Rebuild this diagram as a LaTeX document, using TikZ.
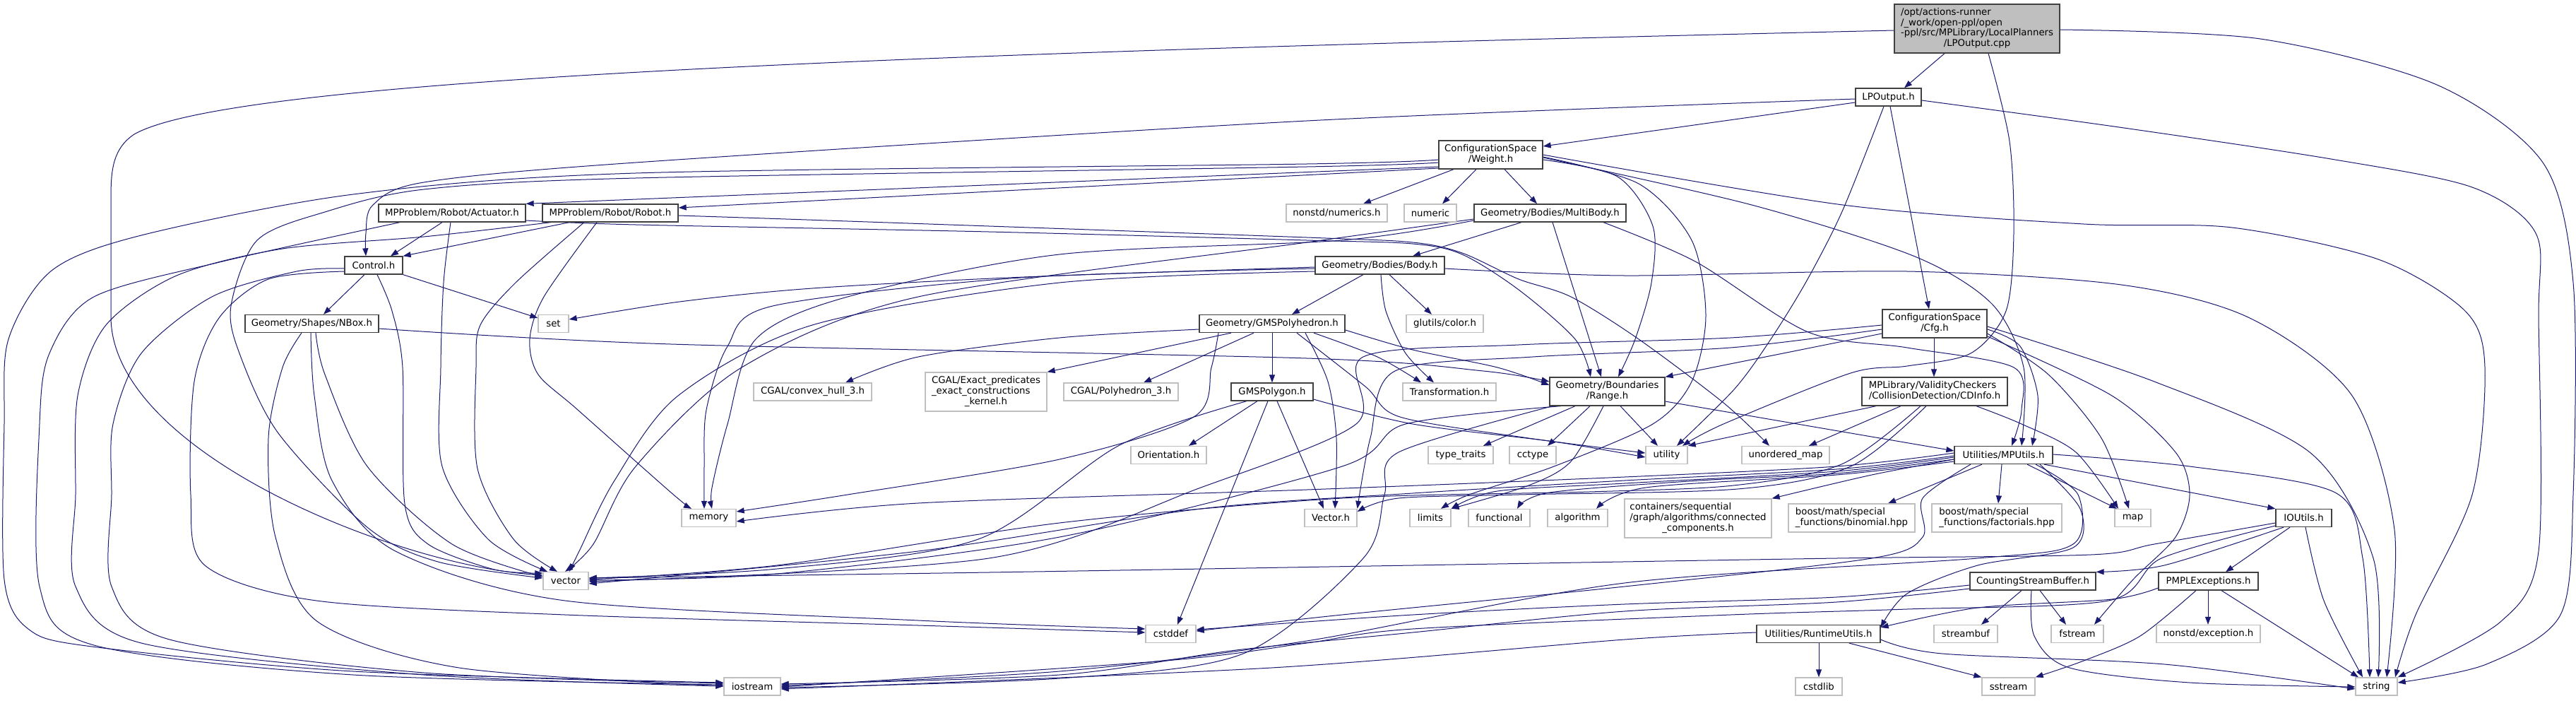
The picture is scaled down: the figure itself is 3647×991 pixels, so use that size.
\documentclass[tikz,border=0pt]{standalone}
\usepackage{fontspec}
\setmainfont{DejaVu Sans}
\usetikzlibrary{arrows.meta}
\pgfdeclarelayer{bg}
\pgfsetlayers{bg,main}
\definecolor{cedge}{HTML}{191970}
\definecolor{cdark}{HTML}{404040}
\definecolor{clite}{HTML}{BFBFBF}
\newcommand{\nf}{\fontsize{13.3}{14.7}\selectfont}
\tikzset{
  nd/.style={draw=cdark, line width=1.3pt, fill=white, inner sep=0pt, font=\nf, minimum height=25pt},
  nx/.style={nd, draw=clite},
  edg/.style={draw=cedge, line width=1pt, -{Triangle[length=11pt,width=8pt]}},
}
\begin{document}
\begin{tikzpicture}[x=1pt,y=-1pt]
\useasboundingbox (0,0) rectangle (3647,991);
% nodes
\node[nd, fill=clite, minimum width=234pt, minimum height=69pt] (R) at (2799,40.5) {\begin{tabular}{@{}l@{}}/opt/actions-runner\\/\_work/open-ppl/open\\-ppl/src/MPLibrary/LocalPlanners\\\multicolumn{1}{@{}c@{}}{/LPOutput.cpp}\end{tabular}};
\node[nd, minimum width=93pt] (LP) at (2673.5,137.5) {LPOutput.h};
\node[nd, minimum width=147pt, minimum height=40pt] (W) at (2110.5,219) {\begin{tabular}{@{}c@{}}ConfigurationSpace\\/Weight.h\end{tabular}};
\node[nd, minimum width=208pt] (A) at (640,301.5) {MPProblem/Robot/Actuator.h};
\node[nd, minimum width=192pt] (Rb) at (864,301.5) {MPProblem/Robot/Robot.h};
\node[nx, minimum width=143pt] (Nm) at (1892.5,301.5) {nonstd/numerics.h};
\node[nx, minimum width=74pt] (Nc) at (2025,301.5) {numeric};
\node[nd, minimum width=215pt] (MB) at (2194.5,301.5) {Geometry/Bodies/MultiBody.h};
\node[nd, minimum width=82pt] (C) at (529,375.5) {Control.h};
\node[nd, minimum width=183pt] (B) at (1953.5,375.5) {Geometry/Bodies/Body.h};
\node[nd, minimum width=189pt] (NB) at (441.5,458) {Geometry/Shapes/NBox.h};
\node[nx, minimum width=43pt] (set) at (783.5,458) {set};
\node[nd, minimum width=206pt] (GP) at (1801,458) {Geometry/GMSPolyhedron.h};
\node[nx, minimum width=109pt] (gl) at (2045.5,458) {glutils/color.h};
\node[nd, minimum width=148pt, minimum height=40pt] (Cfg) at (2739,458) {\begin{tabular}{@{}c@{}}ConfigurationSpace\\/Cfg.h\end{tabular}};
\node[nx, minimum width=167pt] (cvx) at (1150.5,554.5) {CGAL/convex\_hull\_3.h};
\node[nx, minimum width=172pt, minimum height=55pt] (exk) at (1396,554.5) {\begin{tabular}{@{}l@{}}CGAL/Exact\_predicates\\\_exact\_constructions\\\multicolumn{1}{@{}c@{}}{\_kernel.h}\end{tabular}};
\node[nx, minimum width=162pt] (p3) at (1587,554.5) {CGAL/Polyhedron\_3.h};
\node[nd, minimum width=116pt] (Pg) at (1801,554.5) {GMSPolygon.h};
\node[nx, minimum width=132pt] (Tr) at (2052,554.5) {Transformation.h};
\node[nd, minimum width=163pt, minimum height=40pt] (Rg) at (2275.5,554) {\begin{tabular}{@{}c@{}}Geometry/Boundaries\\/Range.h\end{tabular}};
\node[nd, minimum width=206pt, minimum height=40pt] (CD) at (2739,554) {\begin{tabular}{@{}l@{}}MPLibrary/ValidityCheckers\\/CollisionDetection/CDInfo.h\end{tabular}};
\node[nx, minimum width=107pt] (Or) at (1654.5,644) {Orientation.h};
\node[nx, minimum width=92pt] (tt) at (2068,644) {type\_traits};
\node[nx, minimum width=66pt] (cc) at (2170,644) {cctype};
\node[nx, minimum width=59pt] (ut) at (2359.5,644) {utility};
\node[nx, minimum width=124pt] (um) at (2528,644) {unordered\_map};
\node[nd, minimum width=139pt] (MU) at (2836.5,644) {Utilities/MPUtils.h};
\node[nx, minimum width=77pt] (mem) at (1003.5,733) {memory};
\node[nx, minimum width=74pt] (Vh) at (1884,733) {Vector.h};
\node[nx, minimum width=58pt] (lim) at (2025,733) {limits};
\node[nx, minimum width=87pt] (fn) at (2122.5,733) {functional};
\node[nx, minimum width=85pt] (alg) at (2233.5,733) {algorithm};
\node[nx, minimum width=208pt, minimum height=55pt] (cont) at (2404,733.5) {\begin{tabular}{@{}l@{}}containers/sequential\\/graph/algorithms/connected\\\multicolumn{1}{@{}c@{}}{\_components.h}\end{tabular}};
\node[nx, minimum width=179pt, minimum height=40pt] (bin) at (2621.5,733) {\begin{tabular}{@{}l@{}}boost/math/special\\\_functions/binomial.hpp\end{tabular}};
\node[nx, minimum width=184pt, minimum height=40pt] (fac) at (2827,733) {\begin{tabular}{@{}l@{}}boost/math/special\\\_functions/factorials.hpp\end{tabular}};
\node[nx, minimum width=51pt] (map) at (3019.5,733) {map};
\node[nd, minimum width=79pt] (IO) at (3261.5,733) {IOUtils.h};
\node[nx, minimum width=64pt] (vec) at (801,822) {vector};
\node[nd, minimum width=178pt] (CSB) at (2878,822.5) {CountingStreamBuffer.h};
\node[nd, minimum width=141pt] (PE) at (3126.5,822.5) {PMPLExceptions.h};
\node[nx, minimum width=71pt] (cdf) at (1657.5,897) {cstddef};
\node[nd, minimum width=175pt] (RU) at (2574.5,897) {Utilities/RuntimeUtils.h};
\node[nx, minimum width=90pt] (sbuf) at (2783,897) {streambuf};
\node[nx, minimum width=74pt] (fst) at (2941,897) {fstream};
\node[nx, minimum width=147pt] (nex) at (3126.5,897) {nonstd/exception.h};
\node[nx, minimum width=80pt] (ios) at (1065,971.5) {iostream};
\node[nx, minimum width=66pt] (cstdlib) at (2575,971.5) {cstdlib};
\node[nx, minimum width=75pt] (sst) at (2843.5,971.5) {sstream};
\node[nx, minimum width=59pt] (str) at (3364.5,971.5) {string};

\begin{pgfonlayer}{bg}
% root
\draw[edg] (R.south -| 2753,0) -- (LP.north -| 2696,0);
\draw[edg] (R.west |- 0,43) .. controls (1300,75) and (330,110) .. (190,190) .. controls (160,210) and (157,240) .. (157,280) -- (157,450) .. controls (160,640) and (560,800) .. (vec.west |- 0,814);
\draw[edg] plot[smooth] coordinates {(R.south -| 2815,0) (2845,200) (2851,330) (2840,440) (2790,500) (2700,518) (2620,528) (2440,600) (ut.north -| 2382,0)};
\draw[edg] plot[smooth] coordinates {(R.east |- 0,42) (3200,55) (3450,120) (3600,230) (3643,400) (3643,700) (3625,870) (3520,940) (str.east |- 0,966)};
% LPOutput.h
\draw[edg] (LP.west |- 0,145) -- (W.east |- 0,207);
\draw[edg] (LP.south -| 2676,0) -- (Cfg.north -| 2731,0);
\draw[edg] plot[smooth] coordinates {(LP.west |- 0,140) (1850,171) (900,230) (600,258) (528,290) (518,330) (C.north -| 518,0)};
\draw[edg] plot[smooth] coordinates {(LP.south -| 2667,0) (2609,297) (2558,397) (2507,480) (2456,550) (ut.north -| 2374,0)};
\draw[edg] plot[smooth] coordinates {(LP.east |- 0,142) (3000,180) (3300,225) (3500,265) (3590,330) (3594,450) (3594,780) (3540,880) (str.north east)};
% Weight.h
\draw[edg] (W.west |- 0,236) -- (A.north east);
\draw[edg] (W.west |- 0,238) -- (Rb.east |- 0,294);
\draw[edg] (W.south -| 2058,0) -- (Nm.north -| 1930,0);
\draw[edg] (W.south -| 2090,0) -- (Nc.north -| 2042,0);
\draw[edg] (W.south -| 2130,0) -- (MB.north -| 2176,0);
\draw[edg] plot[smooth] coordinates {(W.west |- 0,226) (1850,232) (900,245) (500,275) (200,333) (73,383) (12,480) (6,600) (6,820) (40,890) (130,915) (500,950) (ios.west |- 0,966)};
\draw[edg] plot[smooth] coordinates {(W.west |- 0,230) (1850,236) (900,252) (600,268) (460,300) (364,340) (327,433) (339,500) (394,613) (521,747) (620,795) (vec.west |- 0,818)};
\draw[edg] plot[smooth] coordinates {(W.east |- 0,226) (2290,250) (2340,320) (2338,400) (2315,480) (Rg.north -| 2291,0)};
\draw[edg] plot[smooth] coordinates {(W.east |- 0,222) (2320,260) (2395,340) (2415,447) (2395,540) (2340,600) (2200,660) (2080,700) (lim.north -| 2040,0)};
\draw[edg] plot[smooth] coordinates {(W.east |- 0,223) (2480,290) (2711,363) (2820,430) (2865,520) (MU.north -| 2862,0)};
\draw[edg] plot[smooth] coordinates {(W.east |- 0,219) (2609,290) (2950,317) (3160,322) (3367,367) (3490,440) (3518,520) (3500,700) (3420,870) (str.north -| 3391,0)};
% Actuator.h
\draw[edg] (A.south -| 626,0) -- (C.north -| 553,0);
\draw[edg] plot[smooth] coordinates {(A.south -| 638,0) (628,400) (624,520) (626,660) (691,763) (vec.north -| 775,0)};
\draw[edg] plot[smooth] coordinates {(A.south -| 566,0) (315,370) (133,420) (70,500) (56,600) (56,830) (133,913) (500,955) (ios.west |- 0,969)};
\draw[edg] plot[smooth] coordinates {(A.east |- 0,312) (900,318) (1400,328) (1850,340) (2000,345) (2070,360) (2150,410) (2230,480) (Rg.north -| 2252,0)};
% Robot.h
\draw[edg] (Rb.south -| 806,0) -- (C.north east);
\draw[edg] plot[smooth] coordinates {(Rb.south -| 827,0) (730,400) (680,460) (674,520) (676,663) (727,763) (vec.north -| 789,0)};
\draw[edg] plot[smooth] coordinates {(Rb.south -| 845,0) (770,420) (750,480) (762,530) (818,580) (950,697) (mem.north -| 979,0)};
\draw[edg] plot[smooth] coordinates {(Rb.south -| 780,0) (600,335) (400,352) (250,390) (150,460) (110,560) (107,700) (107,830) (200,910) (600,955) (ios.west |- 0,971)};
\draw[edg] plot[smooth] coordinates {(Rb.east |- 0,305) (1200,313) (1850,336) (2000,343) (2070,358) (2150,395) (2224,420) (2320,480) (2440,570) (um.north -| 2505,0)};
% Control.h
\draw[edg] (C.south -| 516,0) -- (NB.north -| 458,0);
\draw[edg] (C.south east) -- (set.west |- 0,450);
\draw[edg] plot[smooth] coordinates {(C.south -| 534,0) (555,440) (570,520) (573,713) (606,770) (700,806) (vec.west |- 0,811)};
\draw[edg] plot[smooth] coordinates {(C.west |- 0,380) (420,384) (300,420) (200,500) (160,600) (158,700) (158,830) (240,905) (600,952) (ios.west |- 0,967)};
\draw[edg] plot[smooth] coordinates {(C.west |- 0,384) (380,395) (310,450) (275,540) (270,700) (290,800) (448,850) (800,870) (1300,885) (cdf.west |- 0,895)};
% NBox.h
\draw[edg] plot[smooth] coordinates {(NB.east |- 0,465) (950,487) (1850,507) (2100,525) (Rg.west |- 0,540)};
\draw[edg] plot[smooth] coordinates {(NB.south -| 427,0) (400,520) (380,620) (390,760) (450,880) (650,945) (ios.west |- 0,971)};
\draw[edg] plot[smooth] coordinates {(NB.south -| 440,0) (445,560) (470,680) (560,780) (800,850) (1300,878) (cdf.west |- 0,890)};
\draw[edg] plot[smooth] coordinates {(NB.south -| 447,0) (460,530) (520,660) (640,770) (vec.west |- 0,816)};
% Body.h
\draw[edg] (B.south -| 1930,0) -- (GP.north -| 1829,0);
\draw[edg] (B.south -| 1967,0) -- (gl.north -| 2027,0);
\draw[edg] plot[smooth] coordinates {(B.south -| 1955,0) (1962,440) (1990,500) (Tr.north -| 2030,0)};
\draw[edg] plot[smooth] coordinates {(B.west |- 0,378) (1450,392) (1150,408) (962,427) (set.east |- 0,452)};
\draw[edg] plot[smooth] coordinates {(B.west |- 0,380) (1445,393) (1094,433) (1030,490) (1000,580) (997,660) (mem.north -| 997,0)};
\draw[edg] plot[smooth] coordinates {(B.west |- 0,384) (1500,400) (1150,460) (960,560) (870,680) (820,780) (vec.north -| 806,0)};
\draw[edg] plot[smooth] coordinates {(B.east |- 0,380) (2300,390) (2700,384) (3003,403) (3185,450) (3330,560) (3390,750) (str.north -| 3379,0)};
% MultiBody.h
\draw[edg] (MB.south -| 2154,0) -- (B.north -| 2000,0);
\draw[edg] (MB.south -| 2198,0) -- (Rg.north -| 2267,0);
\draw[edg] plot[smooth] coordinates {(MB.west |- 0,312) (1900,340) (1500,360) (1200,420) (1070,480) (1030,600) (1008,690) (mem.north -| 1008,0)};
\draw[edg] plot[smooth] coordinates {(MB.west |- 0,310) (1850,343) (1300,420) (1050,520) (900,660) (840,770) (vec.north -| 800,0)};
\draw[edg] plot[smooth] coordinates {(MB.south -| 2270,0) (2400,370) (2560,470) (2700,492) (2851,520) (2862,580) (MU.north -| 2848,0)};
% GMSPolyhedron.h
\draw[edg] plot[smooth] coordinates {(GP.west |- 0,466) (1500,478) (1300,505) (cvx.north -| 1197,0)};
\draw[edg] (GP.south -| 1743,0) -- (exk.north east);
\draw[edg] (GP.south -| 1775,0) -- (p3.north -| 1619,0);
\draw[edg] (GP.south -| 1801,0) -- (Pg.north -| 1801,0);
\draw[edg] plot[smooth] coordinates {(GP.south -| 1860,0) (1950,505) (Tr.north -| 2012,0)};
\draw[edg] plot[smooth] coordinates {(GP.east |- 0,467) (2000,495) (2120,520) (Rg.west |- 0,545)};
\draw[edg] plot[smooth] coordinates {(GP.south -| 1836,0) (1933,547) (1982,590) (2164,620) (ut.west |- 0,641)};
\draw[edg] plot[smooth] coordinates {(GP.south -| 1848,0) (1880,540) (1892,620) (Vh.north -| 1890,0)};
\draw[edg] plot[smooth] coordinates {(GP.south -| 1725,0) (1715,520) (1690,590) (1500,650) (1200,700) (mem.east |- 0,724)};
% GMSPolygon.h
\draw[edg] (Pg.south -| 1780,0) -- (Or.north -| 1683,0);
\draw[edg] (Pg.south -| 1808,0) -- (Vh.north -| 1874,0);
\draw[edg] (Pg.south -| 1795,0) -- (cdf.north -| 1667,0);
\draw[edg] plot[smooth] coordinates {(Pg.east |- 0,565) (2000,600) (2200,625) (ut.west |- 0,647)};
\draw[edg] plot[smooth] coordinates {(Pg.south -| 1765,0) (1585,630) (1385,763) (1100,805) (vec.east |- 0,818)};
% Range.h
\draw[edg] (Rg.south -| 2230,0) -- (tt.north -| 2100,0);
\draw[edg] (Rg.south -| 2251,0) -- (cc.north -| 2191,0);
\draw[edg] (Rg.south -| 2294,0) -- (ut.north -| 2347,0);
\draw[edg] (Rg.east |- 0,568) -- (MU.west |- 0,638);
\draw[edg] plot[smooth] coordinates {(Rg.south -| 2270,0) (2224,653) (2164,687) (lim.north east)};
\draw[edg] plot[smooth] coordinates {(Rg.south -| 2210,0) (1990,600) (1900,660) (1500,760) (1100,812) (vec.east |- 0,821)};
\draw[edg] plot[smooth] coordinates {(Rg.south -| 2198,0) (1980,640) (1960,700) (1930,790) (1760,925) (1500,960) (ios.east |- 0,973)};
% Cfg.h
\draw[edg] (Cfg.south -| 2738,0) -- (CD.north -| 2738,0);
\draw[edg] (Cfg.west |- 0,472) -- (Rg.north east);
\draw[edg] plot[smooth] coordinates {(Cfg.east |- 0,466) (2860,490) (2885,560) (MU.north -| 2877,0)};
\draw[edg] plot[smooth] coordinates {(Cfg.east |- 0,472) (2900,530) (2975,620) (map.north -| 3014,0)};
\draw[edg] plot[smooth] coordinates {(Cfg.east |- 0,462) (3050,540) (3270,640) (3360,790) (str.north -| 3367,0)};
\draw[edg] plot[smooth] coordinates {(Cfg.west |- 0,460) (2450,478) (2150,488) (1930,505) (1920,600) (1700,690) (1400,790) (vec.east |- 0,823)};
\draw[edg] plot[smooth] coordinates {(Cfg.west |- 0,466) (2450,492) (2170,505) (1975,525) (1940,620) (Vh.north east)};
\draw[edg] plot[smooth] coordinates {(Cfg.east |- 0,476) (2990,560) (3080,640) (3100,700) (3080,760) (3020,820) (fst.north -| 2965,0)};
% CDInfo.h
\draw[edg] (CD.south -| 2656,0) -- (ut.north east);
\draw[edg] (CD.south -| 2691,0) -- (um.north -| 2561,0);
\draw[edg] plot[smooth] coordinates {(CD.south -| 2798,0) (2862,600) (2939,640) (map.north -| 2999,0)};
\draw[edg] plot[smooth] coordinates {(CD.south -| 2719,0) (2607,657) (2454,687) (2250,696) (1900,705) (1500,740) (1100,800) (vec.east |- 0,820)};
\draw[edg] plot[smooth] coordinates {(CD.south -| 2727,0) (2620,660) (2460,692) (2150,700) (1980,705) (Vh.east |- 0,724)};
% MPUtils.h
\draw[edg] plot[smooth] coordinates {(MU.west |- 0,650) (2650,672) (cont.north east)};
\draw[edg] (MU.south -| 2806,0) -- (bin.north -| 2673,0);
\draw[edg] (MU.south -| 2834,0) -- (fac.north -| 2829,0);
\draw[edg] (MU.south -| 2870,0) -- (map.north -| 2997,0);
\draw[edg] (MU.south -| 2894,0) -- (IO.north west);
\draw[edg] plot[smooth] coordinates {(MU.east |- 0,643) (3100,660) (3306,697) (3345,790) (str.north -| 3355,0)};
\draw[edg] plot[smooth] coordinates {(MU.west |- 0,641) (2600,660) (2300,675) (1850,693) (1300,712) (mem.east |- 0,738)};
\draw[edg] plot[smooth] coordinates {(MU.west |- 0,645) (2600,664) (2300,680) (2000,698) (1700,720) (1300,780) (vec.east |- 0,826)};
\draw[edg] plot[smooth] coordinates {(MU.west |- 0,647) (2600,667) (2300,684) (2120,695) (lim.north east)};
\draw[edg] plot[smooth] coordinates {(MU.west |- 0,650) (2600,670) (2406,680) (2194,697) (fn.north -| 2148,0)};
\draw[edg] plot[smooth] coordinates {(MU.west |- 0,653) (2600,672) (2330,690) (alg.north -| 2260,0)};
\draw[edg] plot[smooth] coordinates {(MU.south -| 2882,0) (2942,700) (2935,770) (2800,790) (2300,825) (1850,907) (1500,950) (ios.east |- 0,970)};
\draw[edg] plot[smooth] coordinates {(MU.south -| 2790,0) (2722,705) (2722,760) (2650,790) (2300,830) (1900,870) (cdf.east |- 0,893)};
\draw[edg] plot[smooth] coordinates {(MU.south -| 2888,0) (2945,720) (2935,775) (2800,800) (2700,840) (RU.east |- 0,888)};
% IOUtils.h
\draw[edg] plot[smooth] coordinates {(IO.south -| 3233,0) (3064,800) (CSB.north east)};
\draw[edg] (IO.south -| 3242,0) -- (PE.north -| 3151,0);
\draw[edg] plot[smooth] coordinates {(IO.south -| 3264,0) (3290,850) (str.north -| 3345,0)};
\draw[edg] plot[smooth] coordinates {(IO.west |- 0,740) (3050,770) (2960,785) (2600,790) (2000,800) (1400,810) (vec.east |- 0,818)};
\draw[edg] plot[smooth] coordinates {(IO.west |- 0,744) (3060,790) (2985,850) (2700,862) (2450,870) (2000,890) (1850,910) (1650,935) (ios.east |- 0,972)};
% CountingStreamBuffer.h
\draw[edg] (CSB.south -| 2862,0) -- (sbuf.north -| 2805,0);
\draw[edg] (CSB.south -| 2888,0) -- (fst.north -| 2925,0);
\draw[edg] plot[smooth] coordinates {(CSB.south -| 2876,0) (2880,900) (2930,945) (3100,966) (str.west |- 0,972)};
\draw[edg] plot[smooth] coordinates {(CSB.west |- 0,828) (2600,845) (2300,855) (2000,870) (cdf.east |- 0,891)};
\draw[edg] plot[smooth] coordinates {(CSB.west |- 0,833) (2600,852) (2300,865) (2000,895) (1750,920) (1500,955) (ios.east |- 0,968)};
% PMPLExceptions.h
\draw[edg] (PE.south -| 3126,0) -- (nex.north -| 3126,0);
\draw[edg] plot[smooth] coordinates {(PE.south -| 3109,0) (3030,900) (2950,935) (sst.north east)};
\draw[edg] (PE.south -| 3145,0) -- (str.north -| 3339,0);
\draw[edg] plot[smooth] coordinates {(PE.west |- 0,832) (2990,848) (2800,860) (RU.east |- 0,888)};
% RuntimeUtils.h
\draw[edg] (RU.south -| 2575,0) -- (cstdlib.north -| 2575,0);
\draw[edg] (RU.south -| 2618,0) -- (sst.north west);
\draw[edg] plot[smooth] coordinates {(RU.east |- 0,905) (2750,925) (3064,940) (str.west |- 0,975)};
\draw[edg] plot[smooth] coordinates {(RU.west |- 0,895) (2300,905) (1800,945) (ios.east |- 0,975)};
\end{pgfonlayer}
\end{tikzpicture}
\end{document}
